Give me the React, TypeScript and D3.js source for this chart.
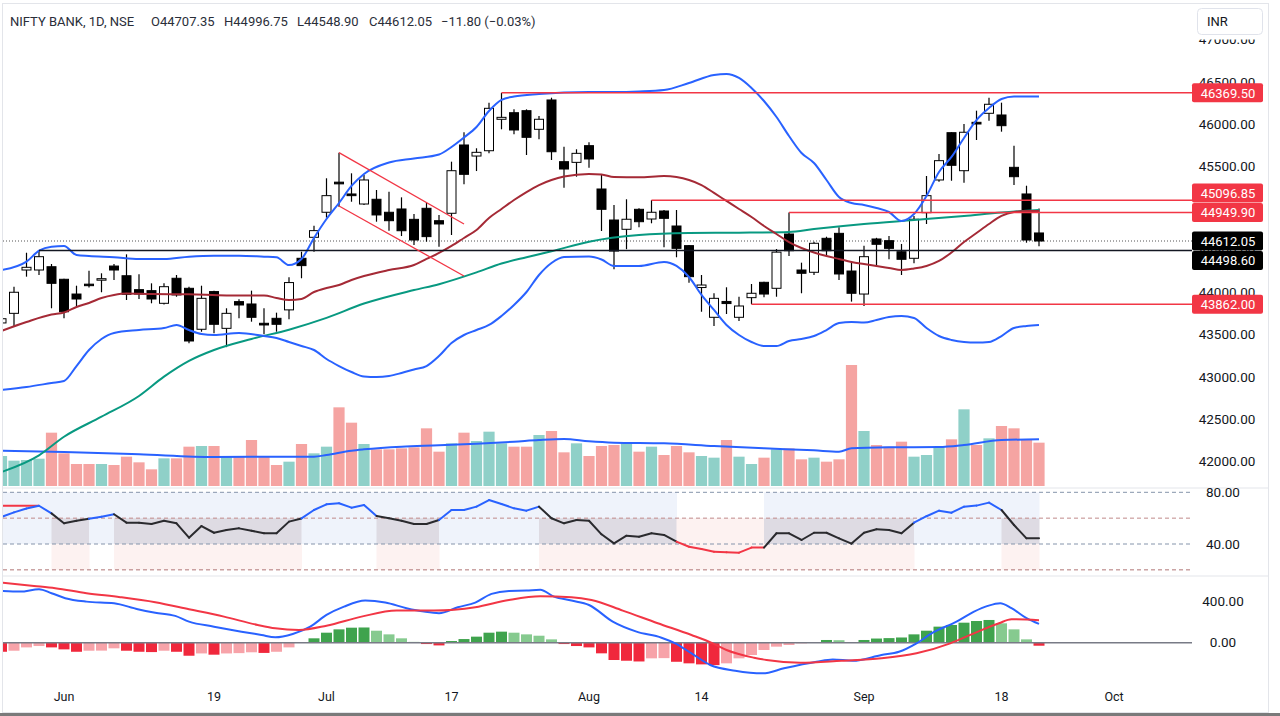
import React, { useEffect, useRef } from "react";
import * as d3 from "d3";

// trading days, 25 May .. 22 Sep 2023
const dates = [
  "05-25", "05-26", "05-29", "05-30", "05-31", "06-01", "06-02", "06-05", "06-06", "06-07",
  "06-08", "06-09", "06-12", "06-13", "06-14", "06-15", "06-16", "06-19", "06-20", "06-21",
  "06-22", "06-23", "06-26", "06-27", "06-28", "06-30", "07-03", "07-04", "07-05", "07-06",
  "07-07", "07-10", "07-11", "07-12", "07-13", "07-14", "07-17", "07-18", "07-19", "07-20",
  "07-21", "07-24", "07-25", "07-26", "07-27", "07-28", "07-31", "08-01", "08-02", "08-03",
  "08-04", "08-07", "08-08", "08-09", "08-10", "08-11", "08-14", "08-16", "08-17", "08-18",
  "08-21", "08-22", "08-23", "08-24", "08-25", "08-28", "08-29", "08-30", "08-31", "09-01",
  "09-04", "09-05", "09-06", "09-07", "09-08", "09-11", "09-12", "09-13", "09-14", "09-15",
  "09-18", "09-20", "09-21", "09-22",
];

const opens = [
  43640, 43754, 44268, 44268, 44307, 44158, 43983, 44100, 44150, 44315,
  44200, 44035, 44023, 43873, 44170, 44051, 43565, 44012, 43576, 43893,
  43865, 43636, 43695, 43795, 44407, 44656, 44953, 45310, 45170, 45051,
  45107, 44953, 44992, 44869, 45000, 44853, 44941, 45751, 45620, 45683,
  46056, 46134, 46158, 45937, 46285, 45553, 45545, 45743, 45229, 44861,
  44751, 44988, 44873, 44968, 44790, 44557, 44060, 43707, 43895, 43707,
  43940, 44122, 44051, 44695, 44268, 44241, 44644, 44703, 44256, 43983,
  44636, 44616, 44485, 44407, 44948, 45336, 45897, 45446, 46020, 46127,
  46107, 45486, 45170, 44707.35,
];
const highs = [
  43750, 44070, 44473, 44497, 44339, 44165, 44082, 44260, 44229, 44339,
  44454, 44217, 44110, 44110, 44209, 44070, 44082, 44023, 43814, 43922,
  44023, 43814, 43762, 44182, 44485, 44794, 45356, 45660, 45415, 45395,
  45217, 45197, 45130, 44932, 45066, 44921, 45553, 45902, 45712, 46253,
  46369.5, 46174, 46174, 46095, 46312, 45731, 45700, 45783, 45395, 45039,
  45107, 45000, 45096.85, 44980, 44980, 44565, 44209, 43992, 44063, 43951,
  44102, 44130, 44517, 44949.9, 44355, 44604, 44663, 44775, 44375, 44557,
  44650, 44671, 44577, 44909, 45383, 45644, 45902, 46000, 46158, 46312,
  46253, 45743, 45268, 44996.75,
];
const lows = [
  43550, 43595, 44189, 44209, 43814, 43695, 43826, 44060, 44004, 44149,
  43912, 43924, 43873, 43860, 43951, 43398, 43536, 43517, 43353, 43695,
  43655, 43505, 43536, 43683, 44170, 44485, 44889, 45019, 45078, 45040,
  44841, 44734, 44671, 44565, 44604, 44545, 44683, 45285, 45442, 45652,
  45937, 45878, 45632, 45818, 45573, 45244, 45375, 45482, 44731, 44276,
  44515, 44775, 44822, 44537, 44419, 44118, 43773, 43604, 43746, 43663,
  43862, 43944, 43951, 44434, 43992, 44209, 44434, 44149, 43893, 43840,
  44307, 44395, 44209, 44348, 44814, 45316, 45327, 45304, 45810, 46040,
  45909, 45276, 44592, 44548.9,
];
const closes = [
  43690, 44004, 44300, 44426, 44110, 43773, 43924, 44085, 44165, 44268,
  43980, 43983, 43924, 44070, 43972, 43426, 43932, 43624, 43754, 43853,
  43707, 43616, 43624, 44119, 44320, 44735, 45150, 45290, 45150, 45336,
  44921, 44853, 44734, 44624, 44664, 44814, 45446, 45403, 45664, 46186,
  46079, 45929, 45842, 46056, 45671, 45466, 45652, 45585, 44988, 44493,
  44870, 44841, 44953, 44881, 44525, 44189, 44090, 43932, 43870, 43841,
  43992, 43983, 44480, 44497, 44229, 44585, 44497, 44221, 43992, 44426,
  44573, 44525, 44395, 44870, 45150, 45565, 45510, 45902, 46000, 46234,
  45980, 45375, 44623.85, 44612.05,
];

const volumes = [
  90, 76, 78, 82, 160, 98, 66, 66, 66, 63,
  88, 71, 50, 83, 83, 118, 120, 120, 88, 88,
  138, 88, 63, 73, 126, 98, 118, 236, 190, 126,
  110, 110, 113, 116, 173, 103, 128, 160, 135, 163,
  128, 118, 118, 153, 165, 101, 128, 90, 120, 123,
  128, 103, 118, 93, 120, 101, 90, 85, 138, 88,
  66, 85, 110, 113, 80, 85, 73, 80, 363, 165,
  123, 118, 133, 88, 93, 116, 140, 230, 123, 143,
  180, 173, 140, 130,
];

// [bar, value] points
const volumeMa: [number, number][] = [
  [0, 106], [5, 102], [11, 95], [17, 87], [23, 88], [25, 88], [26, 93], [28, 106],
  [29, 110], [32, 118], [35, 122], [38, 127], [41, 133], [43, 138], [45, 141],
  [47, 134], [49, 130], [53, 128], [57, 120], [61, 113], [65, 107], [67, 103],
  [68, 113], [71, 116], [75, 117], [77, 123], [80, 138], [83, 140],
];

const bbUpper: [number, number][] = [
  [0, 44268], [2, 44367], [3, 44497], [4, 44545], [5, 44553], [6, 44446], [7, 44434],
  [9, 44419], [11, 44399], [13, 44399], [15, 44426], [17, 44438], [19, 44438],
  [21, 44426], [22, 44419], [23, 44327], [24, 44399], [25, 44648], [26, 44873],
  [27, 45063], [28, 45265], [29, 45407], [31, 45543], [33, 45591], [35, 45638],
  [36, 45727], [37, 45840], [38, 45964], [39, 46154], [40, 46285], [41, 46326],
  [43, 46356], [45, 46374], [47, 46380], [49, 46380], [51, 46386], [53, 46403],
  [55, 46486], [57, 46581], [58, 46593], [59, 46546], [60, 46427], [61, 46273],
  [62, 46083], [63, 45858], [64, 45656], [65, 45537], [66, 45336], [67, 45134],
  [68, 45063], [69, 45039], [70, 45004], [71, 44956], [72, 44849], [73, 44932],
  [74, 45146], [75, 45431], [76, 45609], [77, 45834], [78, 46047], [79, 46190],
  [80, 46297], [81, 46326], [83, 46326],
];
const bbLower: [number, number][] = [
  [0, 42845], [2, 42880], [4, 42928], [5, 42952], [6, 43129], [7, 43319], [8, 43450],
  [9, 43521], [11, 43556], [13, 43580], [14, 43616], [15, 43556], [16, 43509],
  [17, 43497], [19, 43521], [21, 43485], [22, 43462], [23, 43414], [24, 43367],
  [25, 43319], [26, 43212], [27, 43129], [28, 43058], [29, 43005], [30, 42999],
  [31, 43011], [32, 43046], [33, 43088], [34, 43129], [35, 43248], [36, 43402],
  [37, 43497], [38, 43556], [39, 43616], [40, 43723], [41, 43853], [42, 44007],
  [43, 44209], [44, 44351], [45, 44422], [47, 44428], [48, 44393], [49, 44316],
  [51, 44316], [53, 44363], [54, 44316], [55, 44185], [56, 43972], [57, 43794],
  [58, 43616], [59, 43497], [60, 43414], [61, 43367], [62, 43367], [63, 43426],
  [64, 43450], [65, 43485], [66, 43556], [67, 43639], [68, 43651], [69, 43645],
  [70, 43675], [71, 43711], [72, 43722], [73, 43699], [74, 43580], [75, 43485],
  [76, 43438], [77, 43414], [78, 43408], [79, 43414], [80, 43485], [81, 43580],
  [82, 43604], [83, 43616],
];
const bbBasis: [number, number][] = [
  [0, 43545], [2, 43651], [4, 43740], [5, 43764], [6, 43829], [7, 43877], [8, 43936],
  [9, 43972], [10, 43989], [12, 43983], [15, 43980], [18, 43966], [21, 43966],
  [22, 43936], [23, 43912], [24, 43924], [25, 44007], [26, 44055], [27, 44090],
  [28, 44150], [29, 44197], [31, 44268], [33, 44327], [34, 44399], [35, 44470],
  [36, 44553], [37, 44648], [38, 44743], [39, 44885], [40, 44992], [41, 45098],
  [42, 45193], [43, 45276], [44, 45336], [45, 45377], [47, 45407], [48, 45401],
  [49, 45371], [51, 45367], [53, 45383], [54, 45371], [55, 45336], [56, 45276],
  [57, 45182], [58, 45087], [59, 44992], [60, 44897], [61, 44790], [62, 44695],
  [63, 44600], [64, 44529], [65, 44476], [66, 44434], [67, 44399], [68, 44363],
  [69, 44339], [70, 44316], [71, 44292], [72, 44268], [73, 44286], [74, 44316],
  [75, 44375], [76, 44476], [77, 44600], [78, 44707], [79, 44814], [80, 44909],
  [81, 44956], [82, 44968], [83, 44968],
];
const ema50: [number, number][] = [
  [0, 41872], [3, 42070], [5, 42290], [8, 42528], [11, 42774], [13, 43003], [15, 43190],
  [17, 43319], [20, 43450], [23, 43560], [26, 43700], [29, 43870], [33, 44030],
  [35, 44100], [38, 44240], [40, 44345], [42, 44420], [44, 44490], [47, 44604],
  [51, 44683], [55, 44707], [59, 44711], [63, 44719], [65, 44754], [69, 44814],
  [73, 44861], [77, 44909], [80, 44950], [83, 44980],
];

// drawings: levels and the flag channel
const levels = [
  { price: 46369.5, from: 40, color: "#f23645" },
  { price: 45096.85, from: 52, color: "#f23645" },
  { price: 44949.9, from: 63, color: "#f23645" },
  { price: 43862, from: 60, color: "#f23645" },
  { price: 44498.6, from: 3, color: "#131722" },
];
const channel = [
  { from: [27, 45660], to: [37, 44814] },
  { from: [27, 45027], to: [37, 44197] },
];
const lastPrice = 44612.05;

const rsi = [
  61, 64.5, 67.5, 69.6, 63.7, 56, 58, 59.5, 61.1, 63,
  56.5, 56.5, 55.5, 58, 56, 44.9, 53.9, 48.7, 50.8, 52.1,
  50.3, 48.3, 48.3, 57.3, 59.8, 66.3, 70.7, 71.5, 68.1, 70.2,
  61.7, 59.9, 58, 55.5, 55.5, 58.6, 66.3, 66.3, 68.9, 74,
  71, 67.6, 65.8, 68.9, 59.9, 56, 58.6, 58, 47.5, 40.5,
  46.4, 45.6, 48.3, 47, 41.8, 37.9, 36.1, 34, 33.6, 33.3,
  37.2, 37.2, 48.3, 48.3, 43.1, 48.7, 48.7, 44.4, 40.3, 48.7,
  51.4, 50.8, 48.3, 56.5, 61.5, 65.8, 64.2, 68.9, 69.7, 72,
  66.3, 54.7, 44.4, 44.4,
];
const rsiCap: [number, number][] = [[0, 69.6], [3, 69.6]];

const macd: [number, number][] = [
  [0, 497], [1.5, 490], [3, 513], [4, 475], [5.1, 427], [6.8, 394], [9, 379], [10.9, 321],
  [12.3, 288], [13.9, 257], [15, 202], [17, 154], [19.2, 106], [20.8, 74], [21.9, 52],
  [23.3, 84], [24.7, 154], [26, 266], [27.4, 346], [29.1, 404], [30.7, 385], [32.4, 331],
  [33.8, 298], [35, 283], [36.5, 340], [37.9, 385], [39.2, 468], [40.6, 497], [42, 500],
  [43.1, 507], [44.2, 442], [45.6, 404], [47, 362], [48.9, 202], [50.8, 106], [52.8, 48],
  [53.9, -6], [55.2, -102], [56.7, -214], [58.7, -269], [60.9, -294], [62.6, -246],
  [65.2, -183], [66.5, -160], [68.1, -173], [70.4, -118], [71.8, -87], [73.2, -6],
  [74.5, 96], [76.4, 202], [77.8, 298], [78.9, 353], [79.9, 379], [80.8, 331],
  [82, 235], [83, 180],
];
const signal: [number, number][] = [
  [0, 577], [2.6, 545], [4.3, 523], [6.8, 475], [9.5, 437], [12.3, 388], [15, 321],
  [17.8, 250], [20.5, 170], [21.9, 138], [23.8, 122], [26, 163], [28.8, 250],
  [31.6, 308], [34.6, 308], [37.9, 340], [40.6, 410], [43.1, 445], [45.6, 437],
  [47.2, 410], [49.7, 308], [52.5, 187], [55.2, 74], [56.9, -6], [58, -70],
  [60.2, -144], [61.2, -166], [63.9, -192], [67.2, -173], [70.4, -150], [73.2, -102],
  [75.9, -6], [77.8, 90], [79.8, 187], [80.8, 225], [83, 216],
];
const histogram = [
  -87, -77, -45, -32, -45, -64, -87, -77, -76, -54,
  -77, -87, -90, -77, -87, -125, -103, -115, -103, -100,
  -92, -98, -87, -45, 4, 42, 96, 128, 144, 146,
  115, 80, 42, 8, -13, -26, 16, 35, 58, 96,
  106, 96, 80, 67, 32, -13, -32, -45, -102, -166,
  -173, -180, -150, -148, -183, -198, -208, -215, -198, -150,
  -118, -70, -38, -22, -6, 3, 26, 24, 2, 26,
  40, 44, 50, 80, 115, 154, 170, 192, 208, 218,
  186, 128, 32, -29,
];

const timeTicks = [
  { bar: 5, label: "Jun" }, { bar: 17, label: "19" }, { bar: 26, label: "Jul" },
  { bar: 36, label: "17" }, { bar: 47, label: "Aug" }, { bar: 56, label: "14" },
  { bar: 69, label: "Sep" }, { bar: 80, label: "18" }, { bar: 89, label: "Oct" },
];
const priceTicks = [47000, 46500, 46000, 45500, 45000, 44500, 44000, 43500, 43000, 42500, 42000];

const FONT = "Roboto, 'Noto Sans', sans-serif";
const TXT = "#131722";

const App: React.FC = () => {
  const svgRef: any = useRef();

  useEffect(() => {
    document.body.style.margin = "0";
    const svg = d3.select(svgRef.current);
    svg.selectAll("*").remove();

    const plotL = 3;
    const plotR = 1192;
    const axisMid = 1227;

    const x = d3.scaleLinear().domain([0, 83]).range([1.5, 1039]);
    const yP = d3.scaleLinear().domain([44000, 46000]).range([292.6, 124]);
    const yVol = d3.scaleLinear().domain([0, 363]).range([486, 365]);
    const yRsi = d3.scaleLinear().domain([40, 80]).range([544, 492.3]);
    const yMacd = d3.scaleLinear().domain([0, 400]).range([642.7, 601]);

    const defs = svg.append("defs");
    const clip = (id: string, y0: number, y1: number) =>
      defs.append("clipPath").attr("id", id).append("rect")
        .attr("x", plotL).attr("y", y0).attr("width", plotR - plotL).attr("height", y1 - y0);
    clip("cp-price", 37, 487);
    clip("cp-rsi", 489, 575);
    clip("cp-macd", 577, 682);
    defs.append("clipPath").attr("id", "cp-axis").append("rect")
      .attr("x", plotR).attr("y", 39.5).attr("width", 80).attr("height", 448);

    svg.append("rect").attr("width", 1280).attr("height", 716).attr("fill", "#fff");

    // ---------- price pane ----------
    const pp = svg.append("g").attr("clip-path", "url(#cp-price)");

    pp.selectAll("rect.vol").data(volumes).enter().append("rect")
      .attr("x", (_, i) => x(i) - 5.6)
      .attr("width", 11.2)
      .attr("y", (d) => yVol(d))
      .attr("height", (d) => 486 - yVol(d))
      .attr("fill", (_, i) => (closes[i] >= opens[i] ? "#8fd0c8" : "#f5a4a2"));

    const lineOn = (scale: any) =>
      d3.line<[number, number]>().x((d) => x(d[0])).y((d) => scale(d[1])).curve(d3.curveMonotoneX);

    pp.append("path").datum(volumeMa).attr("d", lineOn(yVol))
      .attr("fill", "none").attr("stroke", "#2962ff").attr("stroke-width", 2);

    pp.append("line").attr("x1", plotL).attr("x2", plotR)
      .attr("y1", yP(lastPrice)).attr("y2", yP(lastPrice))
      .attr("stroke", "#555").attr("stroke-dasharray", "1,2");

    const candles = pp.append("g");
    dates.forEach((_, i) => {
      const up = closes[i] >= opens[i];
      candles.append("line")
        .attr("x1", x(i)).attr("x2", x(i))
        .attr("y1", yP(highs[i])).attr("y2", yP(lows[i]))
        .attr("stroke", "#000").attr("stroke-width", 1.2);
      const top = yP(Math.max(opens[i], closes[i]));
      const h = Math.max(1.5, Math.abs(yP(opens[i]) - yP(closes[i])));
      candles.append("rect")
        .attr("x", x(i) - 4.5).attr("width", 9)
        .attr("y", top).attr("height", h)
        .attr("fill", up ? "#fff" : "#000")
        .attr("stroke", "#000").attr("stroke-width", 1);
    });

    const overlay = (data: [number, number][], color: string) =>
      pp.append("path").datum(data).attr("d", lineOn(yP))
        .attr("fill", "none").attr("stroke", color).attr("stroke-width", 2);
    overlay(ema50, "#089981");
    overlay(bbBasis, "#a52a36");
    overlay(bbUpper, "#2962ff");
    overlay(bbLower, "#2962ff");

    levels.forEach((l) => {
      pp.append("line").attr("x1", x(l.from)).attr("x2", plotR)
        .attr("y1", yP(l.price)).attr("y2", yP(l.price))
        .attr("stroke", l.color).attr("stroke-width", 1.5);
    });
    channel.forEach((c) => {
      pp.append("line")
        .attr("x1", x(c.from[0])).attr("y1", yP(c.from[1]))
        .attr("x2", x(c.to[0])).attr("y2", yP(c.to[1]))
        .attr("stroke", "#f23645").attr("stroke-width", 1.3);
    });

    // ---------- RSI pane ----------
    const rp = svg.append("g").attr("clip-path", "url(#cp-rsi)");
    const regime = (v: number) => (v >= 60 ? "bull" : v >= 40 ? "mid" : "bear");
    const band = (x0: number, x1: number, a: number, b: number, fill: string) =>
      rp.append("rect").attr("x", x0).attr("width", x1 - x0 + 0.5)
        .attr("y", yRsi(a)).attr("height", yRsi(b) - yRsi(a)).attr("fill", fill);
    for (let i = 1; i < rsi.length; i++) {
      const r = regime(rsi[i]);
      const x0 = x(i - 1), x1 = x(i);
      if (r === "bull") band(x0, x1, 80, 40, "#eff3fb");
      else if (r === "mid") {
        band(x0, x1, 80, 60, "#eff3fb");
        band(x0, x1, 60, 40, "#dedbe3");
        band(x0, x1, 40, 20, "#fdf2f1");
      } else band(x0, x1, 60, 20, "#fdf2f1");
    }
    [
      { v: 80, c: "#8594ab" }, { v: 60, c: "#c08a8a" },
      { v: 40, c: "#8594ab" }, { v: 20, c: "#b07474" },
    ].forEach((h) => {
      rp.append("line").attr("x1", plotL).attr("x2", plotR)
        .attr("y1", yRsi(h.v)).attr("y2", yRsi(h.v))
        .attr("stroke", h.c).attr("stroke-width", 1).attr("stroke-dasharray", "4,3");
    });
    rp.append("path").datum(rsiCap)
      .attr("d", d3.line<[number, number]>().x((d) => x(d[0])).y((d) => yRsi(d[1])))
      .attr("fill", "none").attr("stroke", "#f23645").attr("stroke-width", 2);
    const rsiColor: any = { bull: "#2962ff", mid: "#2a2a2e", bear: "#f23645" };
    for (let i = 1; i < rsi.length; i++) {
      rp.append("line")
        .attr("x1", x(i - 1)).attr("y1", yRsi(rsi[i - 1]))
        .attr("x2", x(i)).attr("y2", yRsi(rsi[i]))
        .attr("stroke", rsiColor[regime(rsi[i])]).attr("stroke-width", 2)
        .attr("stroke-linecap", "round");
    }

    // ---------- MACD pane ----------
    const mp = svg.append("g").attr("clip-path", "url(#cp-macd)");
    mp.selectAll("rect.h").data(histogram).enter().append("rect")
      .attr("x", (_, i) => x(i) - 5.5)
      .attr("width", 11)
      .attr("y", (d) => Math.min(yMacd(d), yMacd(0)))
      .attr("height", (d) => Math.abs(yMacd(d) - yMacd(0)))
      .attr("fill", (d, i) => {
        const prev = i > 0 ? histogram[i - 1] : d;
        if (d >= 0) return prev < d ? "#3fa34d" : "#86ca8f";
        return prev < d ? "#f7a3a9" : "#f0283c";
      });
    mp.append("line").attr("x1", plotL).attr("x2", plotR)
      .attr("y1", yMacd(0)).attr("y2", yMacd(0))
      .attr("stroke", "#787b86").attr("stroke-width", 1.5);
    mp.append("path").datum(macd).attr("d", lineOn(yMacd))
      .attr("fill", "none").attr("stroke", "#2962ff").attr("stroke-width", 2);
    mp.append("path").datum(signal).attr("d", lineOn(yMacd))
      .attr("fill", "none").attr("stroke", "#f23645").attr("stroke-width", 2);

    // pane separators and frame
    [488, 576].forEach((y) => {
      svg.append("line").attr("x1", plotL).attr("x2", 1268).attr("y1", y).attr("y2", y)
        .attr("stroke", "#e3e5ea").attr("stroke-width", 1);
    });
    svg.append("rect").attr("x", 2.5).attr("y", 3.5).attr("width", 1266).attr("height", 709)
      .attr("fill", "none").attr("stroke", "#e3e5ea");
    svg.append("rect").attr("x", 0).attr("y", 713).attr("width", 1280).attr("height", 3)
      .attr("fill", "#7a7a7a");

    // ---------- price axis ----------
    const marks = [
      ...levels.filter((l) => l.color !== "#131722").map((l) => ({ v: l.price, bg: "#f23645", fixed: false })),
      { v: lastPrice, bg: "#000", fixed: true },
      { v: 44498.6, bg: "#000", fixed: false },
    ]
      .map((m) => ({ ...m, y: yP(m.v) }))
      .sort((a, b) => a.y - b.y);
    for (let i = 1; i < marks.length; i++) {
      if (marks[i].y - marks[i - 1].y < 19.5) {
        if (marks[i - 1].fixed) marks[i].y = marks[i - 1].y + 19.5;
        else marks[i - 1].y = marks[i].y - 19.5;
      }
    }

    // tick labels that sit fully under a price mark are not shown
    const ax = svg.append("g").attr("clip-path", "url(#cp-axis)");
    priceTicks
      .filter((p) => !marks.some((m) => Math.abs(m.y - yP(p)) < 8))
      .forEach((p) => {
        ax.append("text").attr("x", axisMid).attr("y", yP(p)).attr("dy", "0.35em")
          .attr("text-anchor", "middle").attr("font-family", FONT).attr("font-size", 13.5)
          .attr("fill", TXT).text(p.toFixed(2));
      });

    marks.forEach((m) => {
      svg.append("rect").attr("x", 1192).attr("y", m.y - 9.5).attr("width", 71).attr("height", 19)
        .attr("rx", 2).attr("fill", m.bg);
      svg.append("text").attr("x", axisMid + 1).attr("y", m.y).attr("dy", "0.36em")
        .attr("text-anchor", "middle").attr("font-family", FONT).attr("font-size", 13)
        .attr("fill", "#fff").text(m.v.toFixed(2));
    });

    const sideLabel = (y: number, t: string) =>
      svg.append("text").attr("x", axisMid - 4).attr("y", y).attr("dy", "0.35em")
        .attr("text-anchor", "middle").attr("font-family", FONT).attr("font-size", 13.5)
        .attr("fill", TXT).text(t);
    sideLabel(yRsi(80), "80.00");
    sideLabel(yRsi(40), "40.00");
    sideLabel(yMacd(400), "400.00");
    sideLabel(yMacd(0), "0.00");

    // INR box
    svg.append("rect").attr("x", 1197.5).attr("y", 8.5).attr("width", 65).attr("height", 26)
      .attr("rx", 4).attr("fill", "#fff").attr("stroke", "#e0e3eb");
    svg.append("text").attr("x", 1207).attr("y", 21.5).attr("dy", "0.35em")
      .attr("font-family", FONT).attr("font-size", 13).attr("fill", TXT).text("INR");

    // ---------- time axis ----------
    timeTicks.forEach((t) => {
      svg.append("text").attr("x", x(t.bar)).attr("y", 697).attr("dy", "0.35em")
        .attr("text-anchor", "middle").attr("font-family", FONT).attr("font-size", 12.5)
        .attr("fill", TXT).text(t.label);
    });

    // ---------- legend ----------
    const last = opens.length - 1;
    const chg = closes[last] - closes[last - 1];
    const legend = [
      { x: 10, t: "NIFTY BANK, 1D, NSE" },
      { x: 151, t: "O" + opens[last].toFixed(2) },
      { x: 224, t: "H" + highs[last].toFixed(2) },
      { x: 297, t: "L" + lows[last].toFixed(2) },
      { x: 369, t: "C" + closes[last].toFixed(2) },
      {
        x: 441,
        t: `\u2212${Math.abs(chg).toFixed(2)} (\u2212${Math.abs((chg / closes[last - 1]) * 100).toFixed(2)}%)`,
      },
    ];
    legend.forEach((l) => {
      svg.append("text").attr("x", l.x).attr("y", 21).attr("dy", "0.35em")
        .attr("font-family", FONT).attr("font-size", 13).attr("fill", "#2a2e39").text(l.t);
    });
  }, []);

  return <svg ref={svgRef} width={1280} height={716} style={{ display: "block" }} />;
};

export default App;
